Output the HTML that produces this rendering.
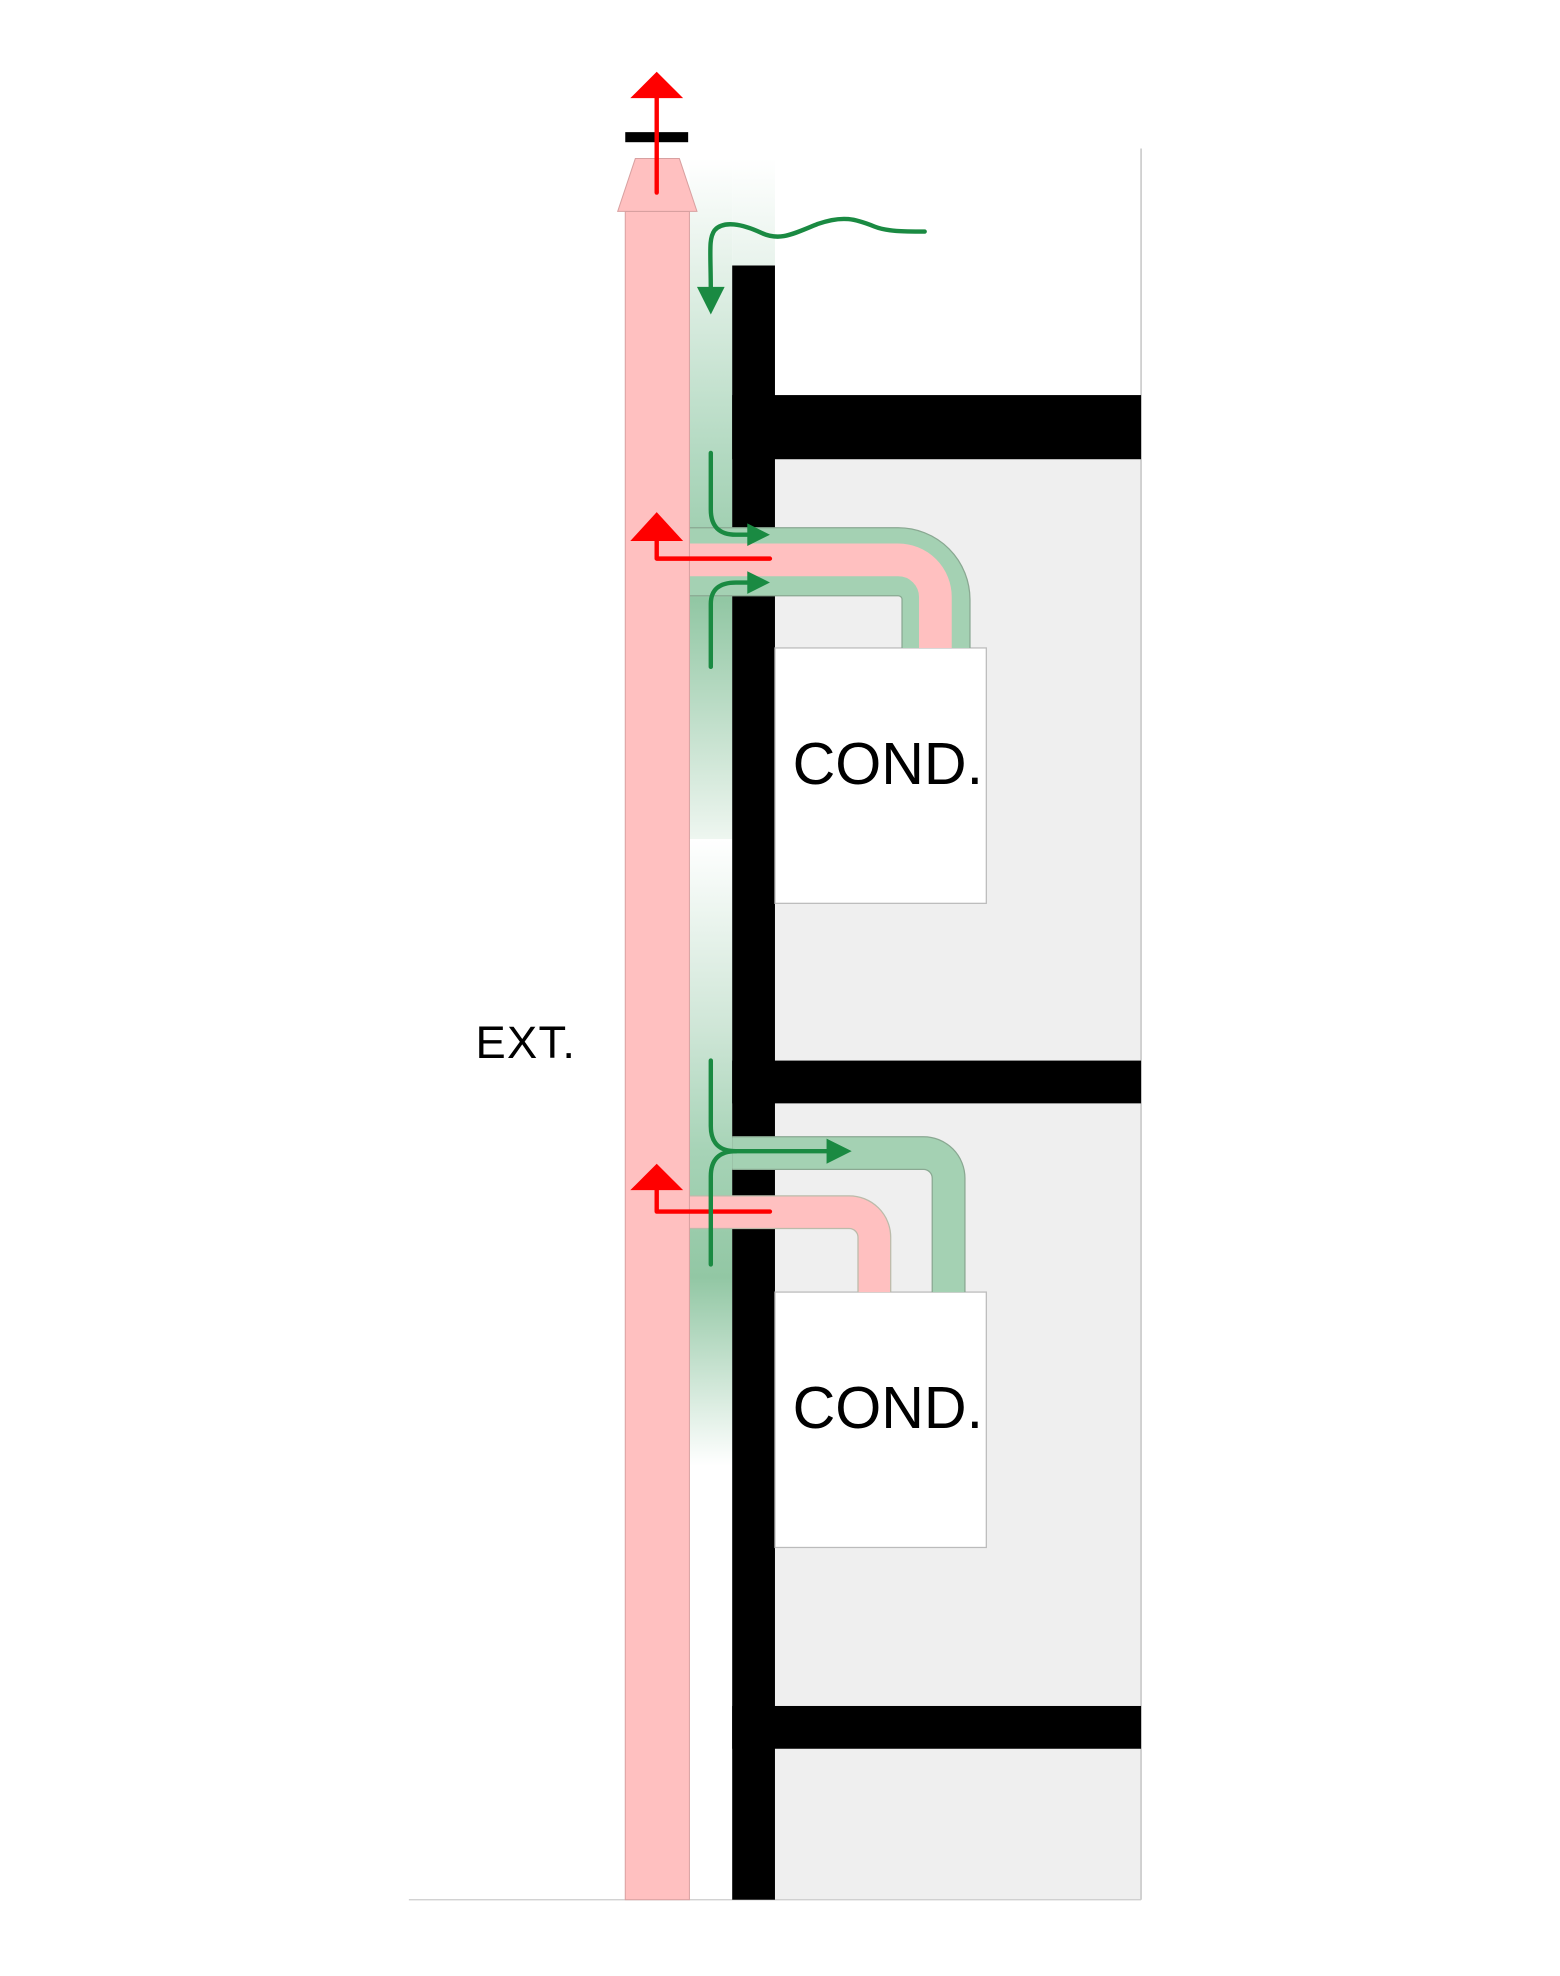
<!DOCTYPE html>
<html><head><meta charset="utf-8"><style>html,body{margin:0;padding:0;background:#fff}svg{display:block}</style></head>
<body>
<svg width="1560" height="1976" viewBox="0 0 1240 1570.6" xmlns="http://www.w3.org/2000/svg">
<defs>
<linearGradient id="g1" x1="0" y1="0" x2="0" y2="1">
<stop offset="0" stop-color="#ffffff"/>
<stop offset="0.15" stop-color="#e6f2ea"/>
<stop offset="0.45" stop-color="#b0d8bf"/>
<stop offset="0.65" stop-color="#92c7a4"/>
<stop offset="1" stop-color="#eef6f0"/>
</linearGradient>
<linearGradient id="g0" x1="0" y1="0" x2="0" y2="1">
<stop offset="0" stop-color="#ffffff"/>
<stop offset="1" stop-color="#e8f3ec"/>
</linearGradient>
<linearGradient id="g2" x1="0" y1="0" x2="0" y2="1">
<stop offset="0" stop-color="#ffffff"/>
<stop offset="0.3" stop-color="#cfe6d7"/>
<stop offset="0.5" stop-color="#a6d3b6"/>
<stop offset="0.7" stop-color="#92c7a4"/>
<stop offset="1" stop-color="#ffffff"/>
</linearGradient>
</defs>
<rect x="616" y="365" width="291" height="1145" fill="#efefef"/>
<line x1="907" y1="118" x2="907" y2="1510" stroke="#bbb" stroke-width="1"/>
<line x1="325" y1="1510" x2="907" y2="1510" stroke="#ccc" stroke-width="1"/>
<rect x="548" y="126" width="34" height="541" fill="url(#g1)"/>
<rect x="582" y="126" width="34" height="85" fill="url(#g0)"/>
<rect x="548" y="667" width="34" height="498" fill="url(#g2)"/>
<rect x="582" y="211" width="34" height="1299" fill="#000"/>
<rect x="582" y="314" width="325" height="51" fill="#000"/>
<rect x="582" y="843" width="325" height="34" fill="#000"/>
<rect x="582" y="1356" width="325" height="34" fill="#000"/>
<rect x="616" y="515" width="168" height="203" fill="#fff" stroke="#bbb" stroke-width="1"/>
<rect x="616" y="1027" width="168" height="203" fill="#fff" stroke="#bbb" stroke-width="1"/>
<path d="M548,446.5 H714 A30 30 0 0 1 744,476.5 V515" fill="none" stroke="#8aa892" stroke-width="55"/>
<path d="M548,446.5 H714 A30 30 0 0 1 744,476.5 V515" fill="none" stroke="#a4d1b3" stroke-width="53"/>
<path d="M548,445 H714 A29.5 29.5 0 0 1 743.5,474.5 V515" fill="none" stroke="#ffc0c0" stroke-width="26"/>
<path d="M582,916.5 H734 A20 20 0 0 1 754,936.5 V1027" fill="none" stroke="#8aa892" stroke-width="27"/>
<path d="M582,916.5 H734 A20 20 0 0 1 754,936.5 V1027" fill="none" stroke="#a4d1b3" stroke-width="25"/>
<path d="M548,963.5 H675 A20 20 0 0 1 695,983.5 V1027" fill="none" stroke="#bba" stroke-width="27"/>
<path d="M548,963.5 H675 A20 20 0 0 1 695,983.5 V1027" fill="none" stroke="#ffc0c0" stroke-width="25"/>
<rect x="497" y="168" width="51" height="1342" fill="#ffc0c0" stroke="#d8a0a0" stroke-width="0.8"/>
<polygon points="505,126 540,126 554,168 491,168" fill="#ffc0c0" stroke="#d8a0a0" stroke-width="0.8"/>
<rect x="497" y="105" width="50" height="8" fill="#000"/>
<g fill="none" stroke="#ff0000" stroke-width="3.5" stroke-linecap="round" stroke-linejoin="round">
<line x1="522" y1="153" x2="522" y2="76"/>
<polyline points="522,428 522,444 612,444"/>
<polyline points="522,944 522,963 612,963"/>
</g>
<g fill="#ff0000">
<polygon points="522,57 501,78 543,78"/>
<polygon points="522,407 501,430 543,430"/>
<polygon points="522,925 501,946 543,946"/>
</g>
<g fill="none" stroke="#1a8a42" stroke-width="3.5" stroke-linecap="round">
<path d="M735,184 C718,184 705,184 695,180 C680,174 670,171 650,178 C630,186 620,192 605,185 C590,178 575,175 568,183 C563,190 565,200 565,232"/>
<path d="M565,360 V405 Q565,425 585,425 H598"/>
<path d="M565,530 V480 Q565,463 585,463 H598"/>
<path d="M565,843 V895 Q565,915 585,915 H660"/>
<path d="M565,1005 V935 Q565,915 585,915"/>
</g>
<g fill="#1a8a42">
<polygon points="565,250 554,228 576,228"/>
<polygon points="612,425 594,416 594,434"/>
<polygon points="612,463 594,454 594,472"/>
<polygon points="677,915 657,905 657,925"/>
</g>
<text x="630" y="623" font-family="Liberation Sans, sans-serif" font-size="47" fill="#000">COND.</text>
<text x="630" y="1135" font-family="Liberation Sans, sans-serif" font-size="47" fill="#000">COND.</text>
<text x="378" y="841" font-family="Liberation Sans, sans-serif" font-size="36" letter-spacing="1" fill="#000">EXT.</text>
</svg>
</body></html>
